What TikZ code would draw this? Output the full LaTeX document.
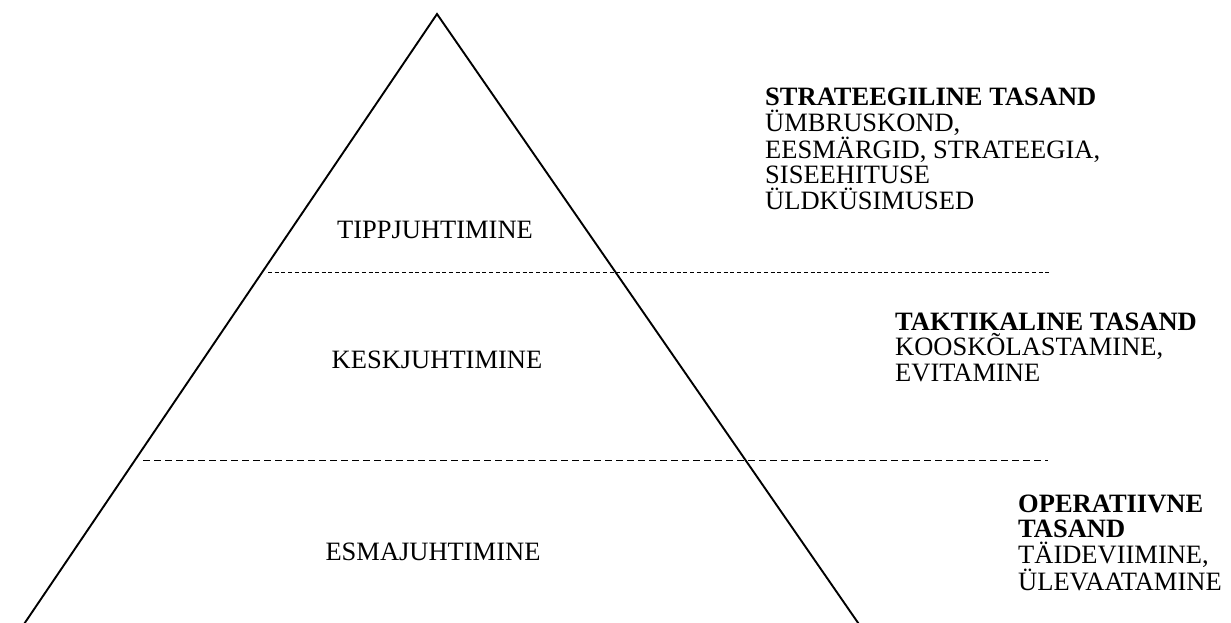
\documentclass[tikz,border=0pt]{standalone}
\usepackage{fontspec}
\setmainfont{Liberation Serif}
\usetikzlibrary{positioning}

\begin{document}
\begin{tikzpicture}[
  x=1pt,y=-1pt,
  level/.style={inner sep=0pt,anchor=base,font=\fontsize{26.5}{25.5}\selectfont},
  side/.style={inner sep=0pt,anchor=base west,align=left,font=\fontsize{26.5}{25.5}\selectfont},
  split/.style={line width=.8pt},
  edge/.style={line width=1.9pt}]
  \useasboundingbox (0,0) rectangle (1231,622);
  % pyramid
  \coordinate (top) at (437,14);
  \coordinate (left) at (20,630);
  \coordinate (right) at (863,630);
  \draw[edge,line join=miter] (left) -- (top) -- (right);
  % level borders
  \coordinate (s1) at (268,272);
  \coordinate (e1) at (1050,272);
  \coordinate (s2) at (143,460);
  \coordinate (e2) at (1048,460);
  \draw[split,dash pattern=on 4pt off 2.7pt] (s1) -- (e1);
  \draw[split,dash pattern=on 7pt off 4pt] (s2) -- (e2);
  % levels
  \node[level] (tipp) at (435,238) {TIPPJUHTIMINE};
  \node[level] (kesk) at (437,368) {KESKJUHTIMINE};
  \node[level] (esma) at (433,560) {ESMAJUHTIMINE};
  % tasandid (anchored at the last line)
  \node[side] (strat) at (765,209)
    {\textbf{STRATEEGILINE TASAND}\\ÜMBRUSKOND,\\EESMÄRGID, STRATEEGIA,\\SISEEHITUSE\\ÜLDKÜSIMUSED};
  \node[side] (takt) at (895,381)
    {\textbf{TAKTIKALINE TASAND}\\KOOSKÕLASTAMINE,\\EVITAMINE};
  \node[side] (oper) at (1018,590)
    {\textbf{OPERATIIVNE}\\\textbf{TASAND}\\TÄIDEVIIMINE,\\ÜLEVAATAMINE};
\end{tikzpicture}
\end{document}
